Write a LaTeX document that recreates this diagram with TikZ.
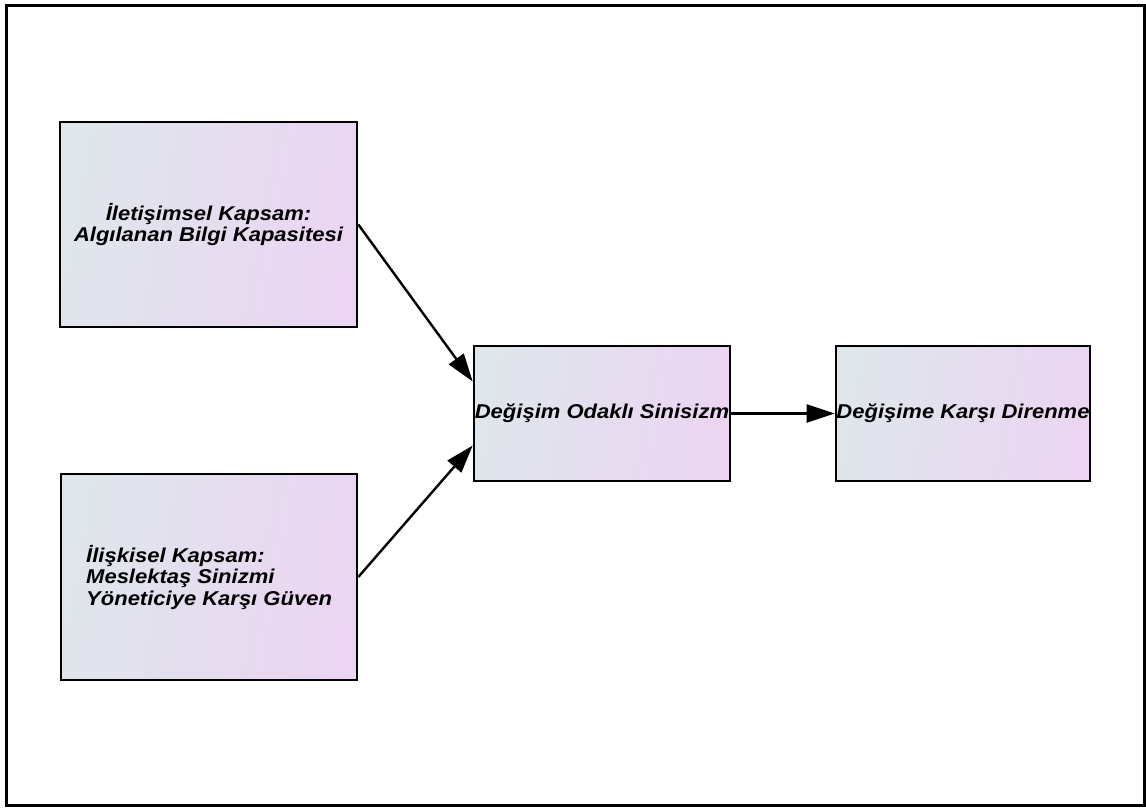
\documentclass[tikz,border=0pt]{standalone}
\usepackage{fontspec}
\setmainfont{Liberation Sans}
\newfontfamily\boxfont[FakeStretch=1.1]{Liberation Sans}
\usetikzlibrary{arrows.meta}
\definecolor{boxleft}{HTML}{DFE6EC}
\definecolor{boxright}{HTML}{EBD5F2}
\tikzset{
  labelfont/.style={font=\boxfont\fontsize{20}{21.5}\selectfont\bfseries\itshape},
  box/.style={draw=black, line width=2.6pt, inner sep=0pt,
    shading=axis, left color=boxleft, right color=boxright, shading angle=80,
    labelfont},
  link/.style={line width=2.4pt, -{Triangle[length=28pt,width=18pt]}}
}
\begin{document}
\begin{tikzpicture}[x=1pt,y=1pt]
\useasboundingbox (0,0) rectangle (1146,-807);
\fill[white] (0,0) rectangle (1146,-807);
\draw[line width=3pt] (6,-5) rectangle (1144,-805);
\node[box, minimum width=297, minimum height=205, align=center] (comm) at (208.5,-224.5)
  {İletişimsel Kapsam:\\Algılanan Bilgi Kapasitesi};
\node[box, minimum width=296, minimum height=206] (rel) at (209,-577) {};
\node[labelfont, align=left, anchor=west, inner sep=0pt] (reltext) at (86,-577)
  {İlişkisel Kapsam:\\Meslektaş Sinizmi\\Yöneticiye Karşı Güven};
\node[box, minimum width=256, minimum height=135] (cyn) at (602,-413.5) {Değişim Odaklı Sinisizm};
\node[box, minimum width=254, minimum height=135] (res) at (963,-413.5) {Değişime Karşı Direnme};
\draw[link] (comm.east) -- ([yshift=32]cyn.west);
\draw[link] (rel.east) -- ([yshift=-32]cyn.west);
\draw[link] (cyn.east) -- (res.west);
\end{tikzpicture}
\end{document}
